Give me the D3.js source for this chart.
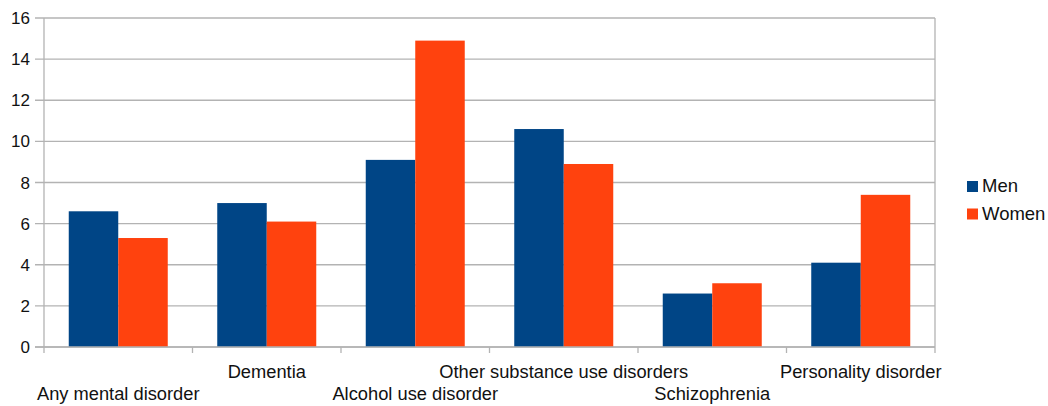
<!DOCTYPE html>
<html>
<head>
<meta charset="utf-8">
<script src="https://cdn.jsdelivr.net/npm/d3@7/dist/d3.min.js"></script>
<style>
html,body{margin:0;padding:0;background:#fff;}
svg{display:block;}
text{font-family:"Liberation Sans",Arial,sans-serif;fill:#111;}
</style>
</head>
<body>
<svg id="chart" width="1048" height="406"></svg>
<script>
const categories = ["Any mental disorder","Dementia","Alcohol use disorder","Other substance use disorders","Schizophrenia","Personality disorder"];
const seriesNames = ["Men","Women"];
const menValues = [6.6, 7.0, 9.1, 10.6, 2.6, 4.1];
const womenValues = [5.3, 6.1, 14.9, 8.9, 3.1, 7.4];
const yTicks = [0,2,4,6,8,10,12,14,16];
const colors = ["#004586","#ff420e"];

const svg = d3.select("#chart");
const mLeft = 44, mRight = 935, mTop = 18, mBottom = 347;

const x = d3.scaleBand().domain(categories).range([mLeft, mRight]).paddingInner(0).paddingOuter(0);
const inner = d3.scaleBand().domain(seriesNames).range([0, x.bandwidth()]).paddingInner(0).paddingOuter(0.5);
const y = d3.scaleLinear().domain([0,16]).range([mBottom, mTop]);

const grid = "#b3b3b3";

// gridlines + y ticks
svg.append("g").selectAll("line").data(yTicks).join("line")
  .attr("x1", mLeft - 9).attr("x2", mRight)
  .attr("y1", d => y(d)).attr("y2", d => y(d))
  .attr("stroke", grid).attr("stroke-width", 1.3);

// y tick labels
svg.append("g").selectAll("text").data(yTicks).join("text")
  .attr("x", 30).attr("y", d => y(d))
  .attr("dy", "0.36em")
  .attr("text-anchor", "end")
  .style("font-size", "17px")
  .text(d => d);

// left axis and right border
svg.append("line").attr("x1", mLeft).attr("x2", mLeft).attr("y1", mTop).attr("y2", mBottom)
  .attr("stroke", grid).attr("stroke-width", 1.3);
svg.append("line").attr("x1", mRight).attr("x2", mRight).attr("y1", mTop).attr("y2", mBottom)
  .attr("stroke", grid).attr("stroke-width", 1.3);

// bars
const groups = svg.append("g").selectAll("g").data(categories).join("g")
  .attr("transform", d => `translate(${x(d)},0)`);
groups.selectAll("rect").data((d,i) => [
    {s: seriesNames[0], v: menValues[i], c: colors[0]},
    {s: seriesNames[1], v: womenValues[i], c: colors[1]}
  ]).join("rect")
  .attr("x", d => inner(d.s))
  .attr("width", inner.bandwidth())
  .attr("y", d => y(d.v))
  .attr("height", d => y(0) - y(d.v))
  .attr("fill", d => d.c);

// bottom axis line and ticks at boundaries
svg.append("line").attr("x1", mLeft - 9).attr("x2", mRight).attr("y1", mBottom).attr("y2", mBottom)
  .attr("stroke", grid).attr("stroke-width", 1.3);
const boundaries = categories.map(c => x(c)).concat([mRight]);
svg.append("g").selectAll("line").data(boundaries).join("line")
  .attr("x1", d => d).attr("x2", d => d)
  .attr("y1", mBottom).attr("y2", mBottom + 6)
  .attr("stroke", grid).attr("stroke-width", 1.3);

// category labels, staggered
svg.append("g").selectAll("text").data(categories).join("text")
  .attr("x", d => x(d) + x.bandwidth()/2)
  .attr("y", (d,i) => i % 2 === 0 ? 400 : 378)
  .attr("text-anchor", "middle")
  .style("font-size", "18.3px")
  .text(d => d);

// legend
const legend = svg.append("g").selectAll("g").data(seriesNames).join("g")
  .attr("transform", (d,i) => `translate(967,${181 + i*27.5})`);
legend.append("rect").attr("width", 11).attr("height", 11).attr("fill", (d,i) => colors[i]);
legend.append("text").attr("x", 15).attr("y", 11).style("font-size", "18.5px").text(d => d);
</script>
</body>
</html>
